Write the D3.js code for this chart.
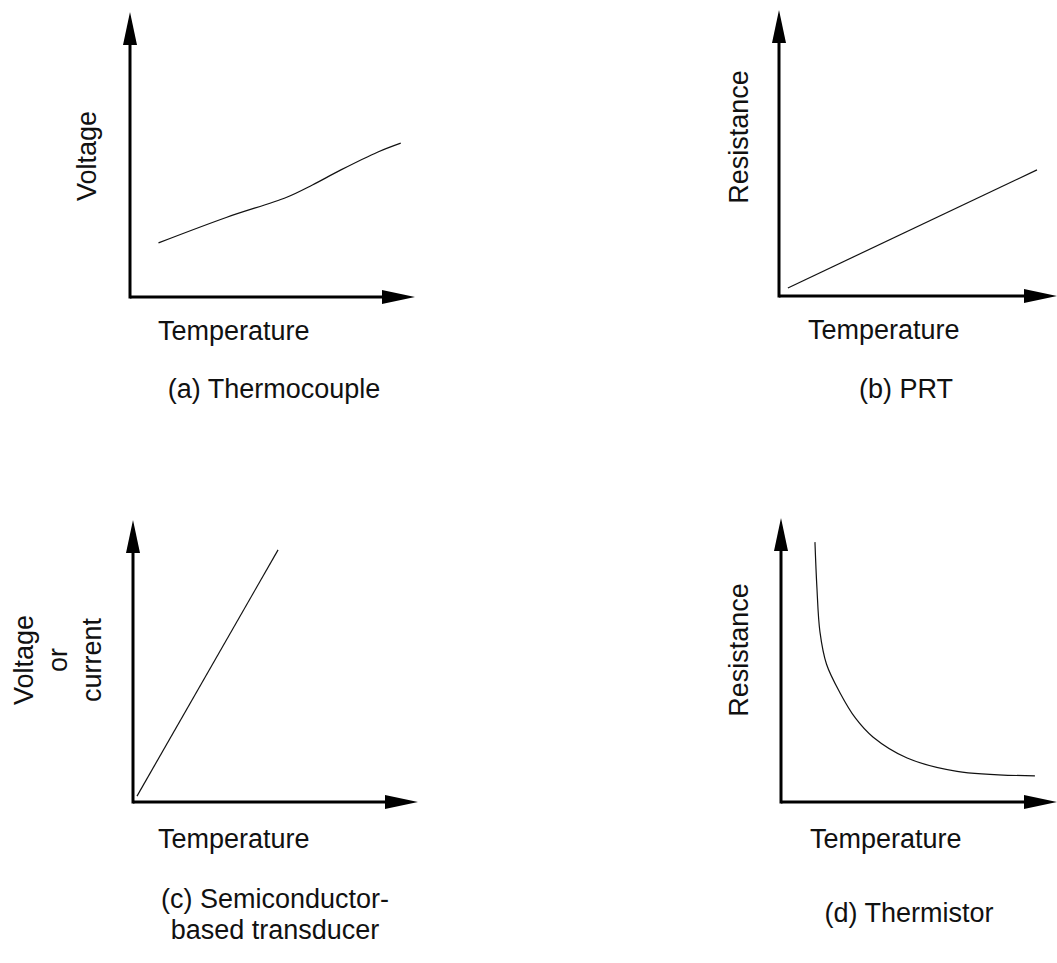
<!DOCTYPE html>
<html>
<head>
<meta charset="utf-8">
<script src="https://cdn.jsdelivr.net/npm/d3@7"></script>
<style>
  html, body { margin: 0; padding: 0; background: #fff; }
  svg text { font-family: "Liberation Sans", Arial, Helvetica, sans-serif; fill: #111; }
</style>
</head>
<body>
<svg id="chart" width="1057" height="963"></svg>
<script>
// Curve shapes, in axis units (0 = origin, 100 = arrow tip)
const thermocoupleX = [10, 34, 55, 64, 74, 87, 95];
const thermocoupleY = [19, 28, 35, 39.3, 44.6, 50.9, 54];

const prtX = [3.2, 92.8];
const prtY = [2.8, 44.1];

const semiX = [1.4, 50.9];
const semiY = [2.1, 89.4];

const thermistorX = [12.3, 13, 14.1, 16.5, 21.4, 27, 33.3, 45.7, 63.8, 92];
const thermistorY = [91.5, 75.7, 60, 48.5, 38.4, 29.5, 22.9, 15.5, 10.8, 9.2];

const xLabel = 'Temperature';
const yLabels = [['Voltage'], ['Resistance'], ['Voltage', 'or', 'current'], ['Resistance']];
const captions = [['(a) Thermocouple'], ['(b) PRT'], ['(c) Semiconductor-', 'based transducer'], ['(d) Thermistor']];

// panel layout (pixels)
const panels = [
  {ox: 130, oy: 297, xEnd: 415, yEnd: 12,  xs: thermocoupleX, ys: thermocoupleY,
   yLabX: 86,  yLabY: 156, xLabX: 158, xLabY: 340, capX: 274, capY: 398},
  {ox: 779, oy: 296, xEnd: 1057, yEnd: 10, xs: prtX, ys: prtY,
   yLabX: 738, yLabY: 137, xLabX: 808, xLabY: 339, capX: 906, capY: 398},
  {ox: 133, oy: 802, xEnd: 418, yEnd: 520, xs: semiX, ys: semiY,
   yLabX: 23,  yLabY: 660, xLabX: 158, xLabY: 848, capX: 275, capY: 908},
  {ox: 781, oy: 802, xEnd: 1057, yEnd: 518, xs: thermistorX, ys: thermistorY,
   yLabX: 738, yLabY: 650, xLabX: 810, xLabY: 848, capX: 909, capY: 922}
];

const svg = d3.select('#chart');
const fontSize = 27;
const headLen = 33, headHalf = 7;

panels.forEach((p, i) => {
  const g = svg.append('g');

  const xScale = d3.scaleLinear().domain([0, 100]).range([p.ox, p.xEnd]);
  const yScale = d3.scaleLinear().domain([0, 100]).range([p.oy, p.yEnd]);

  // axes lines
  g.append('line')
    .attr('x1', xScale(0)).attr('y1', yScale(0))
    .attr('x2', xScale(100) - headLen + 2).attr('y2', yScale(0))
    .attr('stroke', '#000').attr('stroke-width', 3);
  g.append('line')
    .attr('x1', xScale(0)).attr('y1', yScale(0) + 1.5)
    .attr('x2', xScale(0)).attr('y2', yScale(100) + headLen - 2)
    .attr('stroke', '#000').attr('stroke-width', 3);

  // arrow heads
  const xt = xScale(100), yt = yScale(100);
  g.append('path')
    .attr('d', `M${xt},${p.oy} L${xt - headLen},${p.oy - headHalf} L${xt - headLen},${p.oy + headHalf} Z`)
    .attr('fill', '#000');
  g.append('path')
    .attr('d', `M${p.ox},${yt} L${p.ox - headHalf},${yt + headLen} L${p.ox + headHalf},${yt + headLen} Z`)
    .attr('fill', '#000');

  // curve
  const pts = p.xs.map((x, k) => [x, p.ys[k]]);
  const line = d3.line()
    .x(d => xScale(d[0]))
    .y(d => yScale(d[1]))
    .curve(d3.curveCatmullRom.alpha(0.5));
  g.append('path')
    .attr('d', line(pts))
    .attr('fill', 'none')
    .attr('stroke', '#111')
    .attr('stroke-width', 1.2);

  // y label (rotated, possibly several lines)
  const lines = yLabels[i];
  const lineGap = 34;
  lines.forEach((t, k) => {
    const cx = p.yLabX + (k - (lines.length - 1) / 2) * lineGap + (lines.length > 1 ? 34 : 0);
    g.append('text')
      .attr('transform', `translate(${cx + fontSize * 0.36},${p.yLabY}) rotate(-90)`)
      .attr('text-anchor', 'middle')
      .attr('font-size', fontSize)
      .text(t);
  });

  // x label
  g.append('text')
    .attr('x', p.xLabX).attr('y', p.xLabY)
    .attr('font-size', fontSize)
    .text(xLabel);

  // caption
  captions[i].forEach((t, k) => {
    g.append('text')
      .attr('x', p.capX).attr('y', p.capY + k * 31)
      .attr('text-anchor', 'middle')
      .attr('font-size', fontSize)
      .text(t);
  });
});
</script>
</body>
</html>
